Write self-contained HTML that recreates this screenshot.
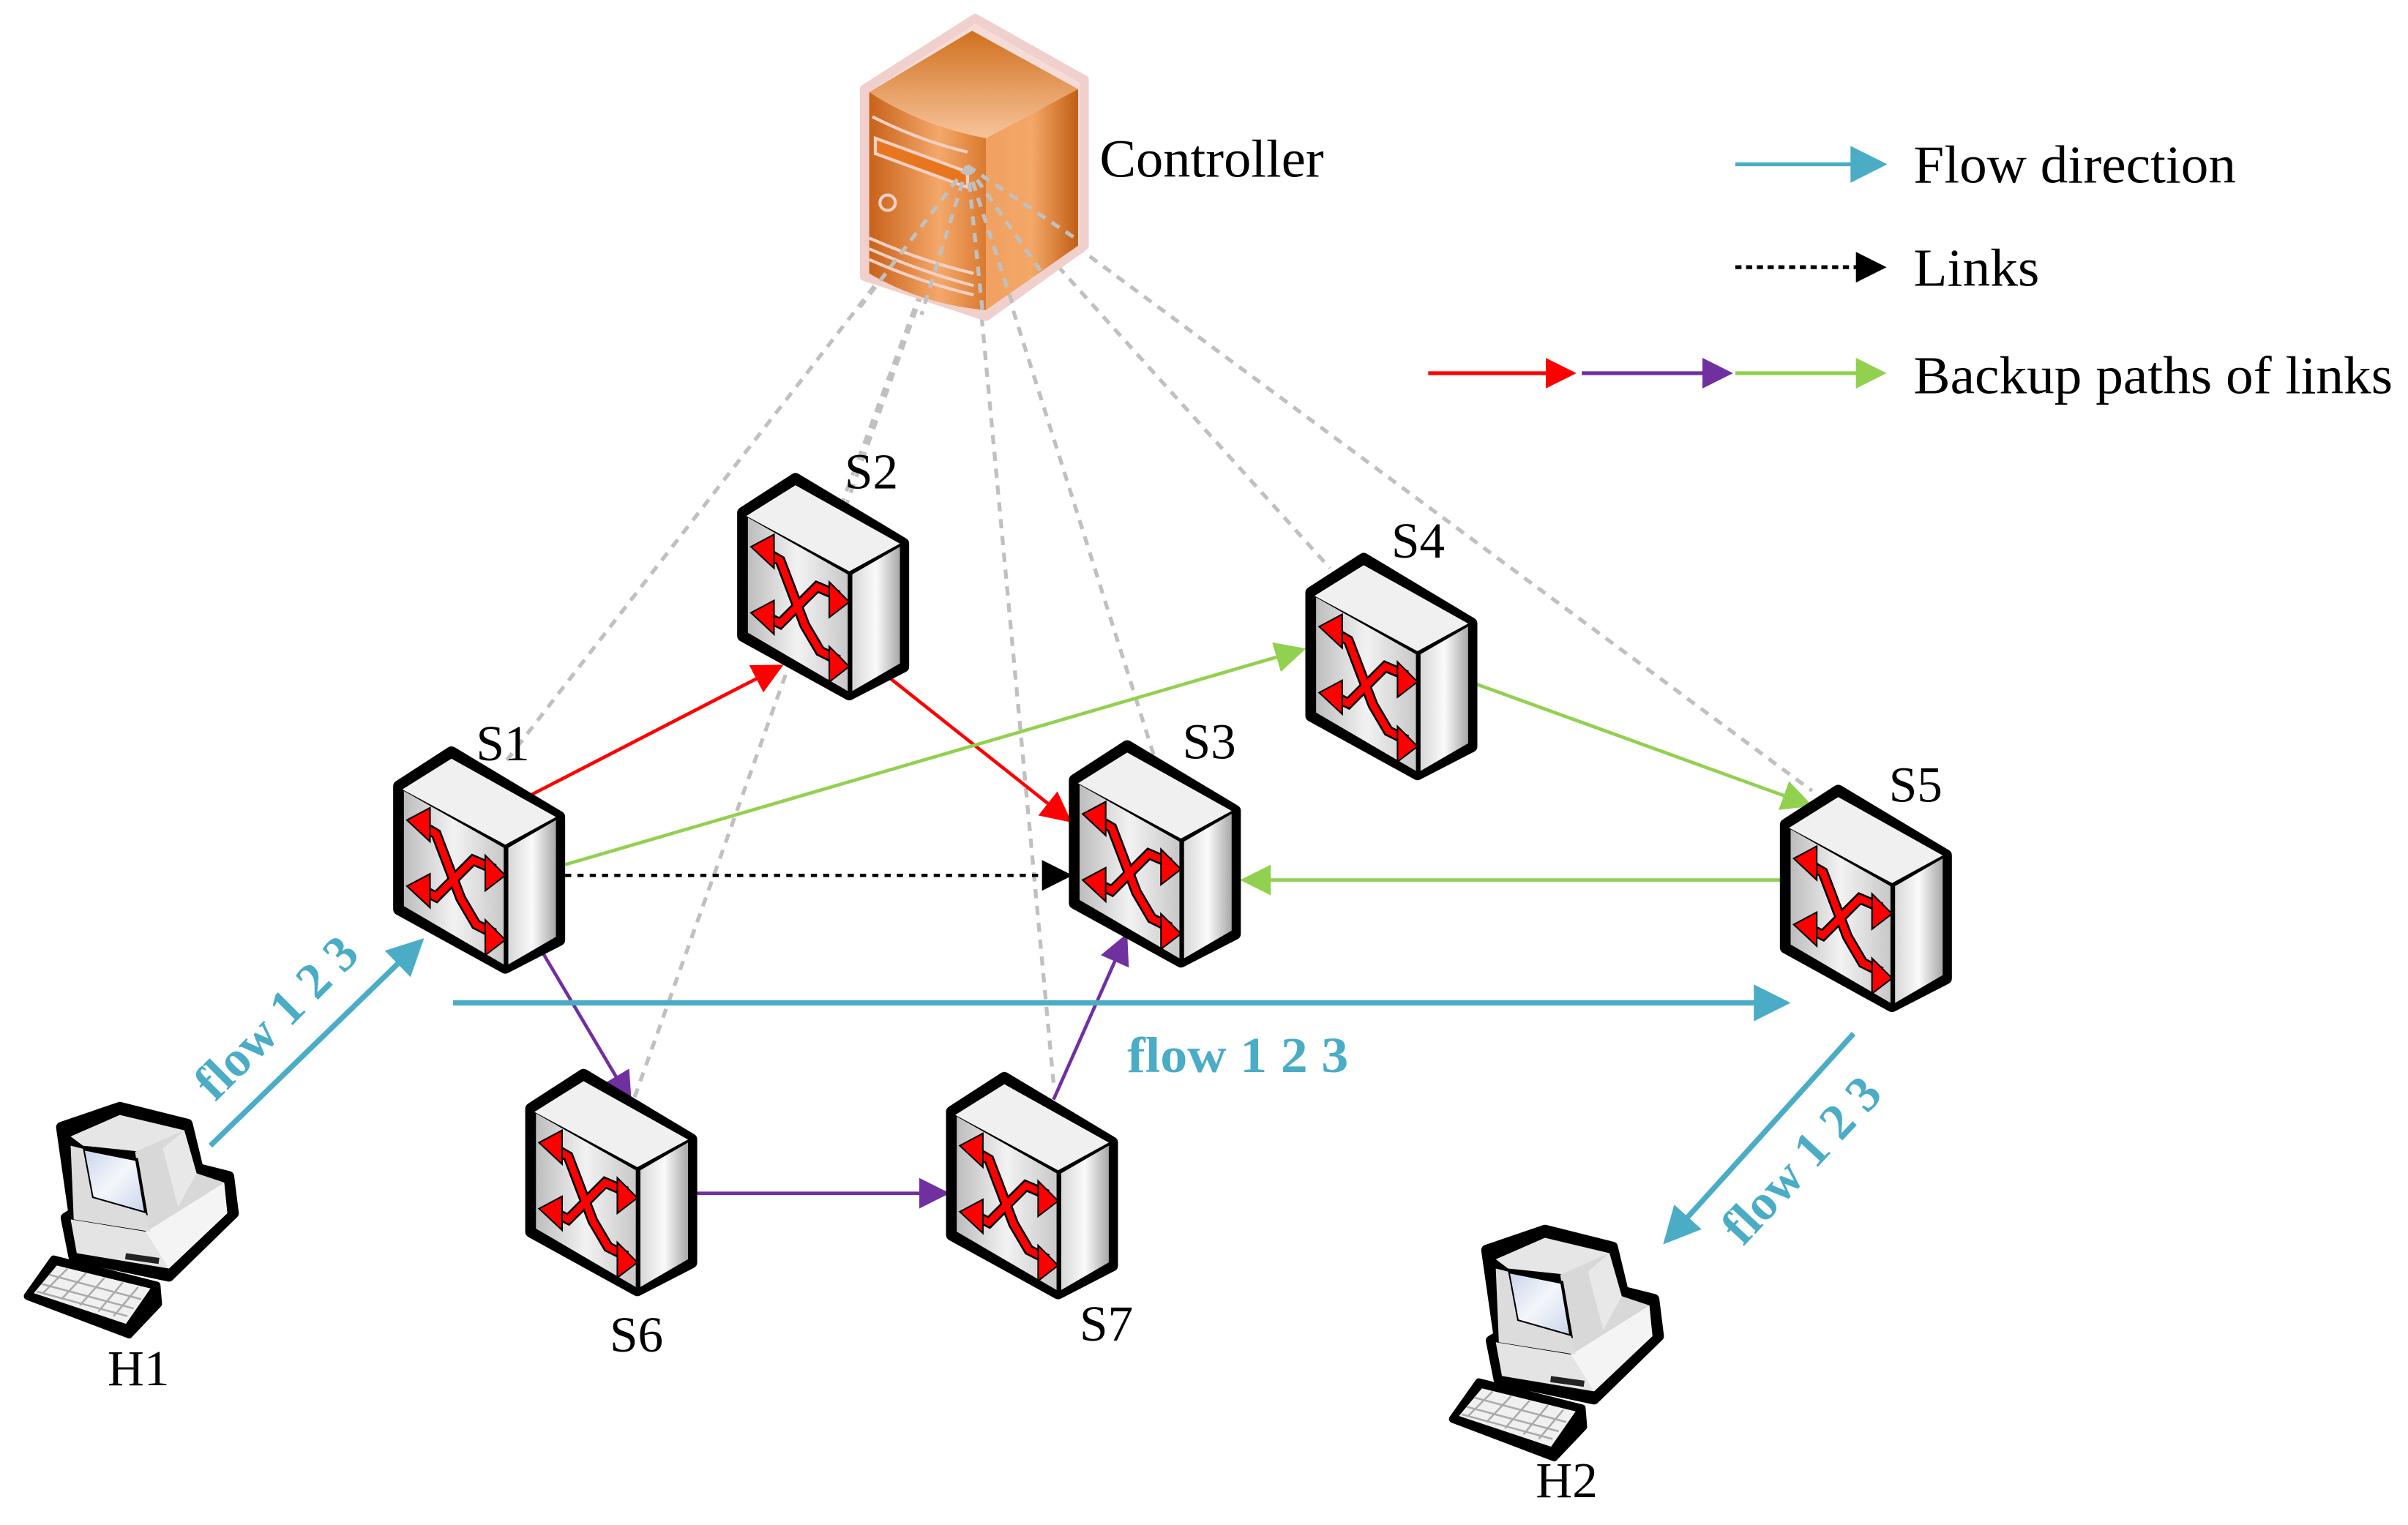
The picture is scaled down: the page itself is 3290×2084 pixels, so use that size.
<!DOCTYPE html>
<html><head><style>html,body{margin:0;padding:0;background:#fff}svg{display:block}</style></head><body>
<svg width="3290" height="2084" viewBox="0 0 1568 993" preserveAspectRatio="none" xmlns="http://www.w3.org/2000/svg" font-family="Liberation Serif, serif">
<defs>
<linearGradient id="gf" x1="0" x2="1"><stop offset="0" stop-color="#bdbdbd"/><stop offset="0.5" stop-color="#f2f2f2"/><stop offset="1" stop-color="#c8c8c8"/></linearGradient>
<linearGradient id="gr" x1="0" x2="1"><stop offset="0" stop-color="#d8d8d8"/><stop offset="0.5" stop-color="#fafafa"/><stop offset="1" stop-color="#a8a8a8"/></linearGradient>
<linearGradient id="of" x1="0" x2="1"><stop offset="0" stop-color="#c8621a"/><stop offset="0.6" stop-color="#f4a86a"/><stop offset="1" stop-color="#d97a30"/></linearGradient>
<linearGradient id="or" x1="0" x2="1"><stop offset="0" stop-color="#f0a060"/><stop offset="0.5" stop-color="#f3a868"/><stop offset="1" stop-color="#c25e14"/></linearGradient>
<linearGradient id="ot" x1="0" y1="0" x2="0" y2="1"><stop offset="0" stop-color="#d0701f"/><stop offset="1" stop-color="#f8c49a"/></linearGradient>
<linearGradient id="scr" x1="0" y1="0" x2="1" y2="1"><stop offset="0" stop-color="#c8d4ea"/><stop offset="0.5" stop-color="#f4f6fb"/><stop offset="1" stop-color="#c8d4ea"/></linearGradient>
<marker id="mg" viewBox="0 0 8 8" markerWidth="20" markerHeight="20" refX="7" refY="4" orient="auto" markerUnits="userSpaceOnUse"><path d="M0,0L8,4L0,8z" fill="#92d050"/></marker>
<marker id="mp" viewBox="0 0 8 8" markerWidth="20" markerHeight="20" refX="7" refY="4" orient="auto" markerUnits="userSpaceOnUse"><path d="M0,0L8,4L0,8z" fill="#7030a0"/></marker>
<marker id="mk" viewBox="0 0 8 8" markerWidth="20" markerHeight="20" refX="7" refY="4" orient="auto" markerUnits="userSpaceOnUse"><path d="M0,0L8,4L0,8z" fill="#000"/></marker>
<marker id="mR" viewBox="0 0 8 8" markerWidth="20" markerHeight="20" refX="7" refY="4" orient="auto" markerUnits="userSpaceOnUse"><path d="M0,0L8,4L0,8z" fill="#ff0000"/></marker>
<marker id="mb" viewBox="0 0 8 8" markerWidth="26" markerHeight="24" refX="7" refY="4" orient="auto" markerUnits="userSpaceOnUse"><path d="M0,0L8,4L0,8z" fill="#4bacc6"/></marker>
<g id="sw">
<path d="M0,22 L34,0 L104,42 L104,122 L69,140 L0,102 Z" fill="#000" stroke="#000" stroke-width="8" stroke-linejoin="round"/>
<path d="M2,24 L34,4 L102,42 L69,60 Z" fill="#f0f0f0"/>
<path d="M3,25 L68,62 L68,138 L3,100 Z" fill="url(#gf)"/>
<path d="M71,62 L102,44 L102,120 L71,138 Z" fill="url(#gr)"/>
<g stroke="#000" stroke-width="7" fill="none"><path d="M12,46 L24,53 L40,95 L50,112 L62,118"/><path d="M12,88 L24,94 L48,70 L62,76"/></g>
<g stroke="#ff0000" stroke-width="4.5" fill="none"><path d="M12,46 L24,53 L40,95 L50,112 L62,118"/><path d="M12,88 L24,94 L48,70 L62,76"/></g>
<g fill="#ff0000" stroke="#000" stroke-width="1"><path d="M5,44 L20,36 L20,58 Z"/><path d="M5,87 L20,79 L20,101 Z"/><path d="M69,80 L56,67 L56,90 Z"/><path d="M69,122 L56,109 L56,132 Z"/></g>
</g>
<g id="pc">
<path d="M20,16 L58,3 L102,14 L109,43 L129,48 L132,72 L90,113 L28,100 L23,75 L28,72 Z" fill="#000" stroke="#000" stroke-width="7" stroke-linejoin="round"/>
<path d="M26,22 L58,8 L100,18 L92,34 L34,28 Z" fill="#e6e6e6"/>
<path d="M68,32 L100,18 L108,46 L126,52 L75,84 Z" fill="#d8d8d8"/>
<path d="M34,30 L69,37 L75,72 L40,62 Z" fill="url(#scr)" stroke="#000" stroke-width="2"/>
<path d="M86,30 L100,18 L108,46 L96,68 Z" fill="#e8e8e8"/>
<path d="M26,76 L75,84 L126,52 L128,72 L90,108 L30,98 Z" fill="#e4e4e4"/>
<path d="M75,84 L126,52 L128,72 L90,108 Z" fill="#f4f4f4"/>
<path d="M26,28 L34,30 L40,62 L75,72 L78,84 L28,76 Z" fill="#dcdcdc"/>
<rect x="62" y="98" width="22" height="4" fill="#222" transform="rotate(8 62 98)"/>
<path d="M15,102 L82,119 L83,131 L64,151 L-2,126 Z" fill="#000" stroke="#000" stroke-width="5" stroke-linejoin="round"/>
<path d="M17,106 L78,121 L62,144 L2,124 Z" fill="#f0f0f0"/>
<g stroke="#aaa" stroke-width="1.2"><path d="M12,112 L72,128 M7,118 L67,134 M4,123 L63,139 M24,108 L8,124 M36,111 L20,128 M48,114 L32,132 M60,117 L44,136 M70,120 L54,139"/></g>
</g>
</defs>
<rect width="1568" height="993" fill="#fff"/>

<g stroke="#c0c0c0" stroke-width="2.5" stroke-dasharray="6,5" fill="none">
<path d="M630,108 L330,495"/><path d="M630,108 L413,715"/><path d="M630,108 L686,705"/><path d="M630,108 L752,494"/><path d="M630,108 L866,370"/><path d="M630,108 L1180,515"/><path d="M630,108 L540,350"/>
</g>

<g>
<path d="M563,58 L635,12 L706,52 L706,160 L642,206 L563,180 Z" fill="#f6dcd8" stroke="#f0d0cc" stroke-width="6" stroke-linejoin="round"/>
<path d="M566,60 L633,20 L702,58 L642,90 Q600,82 566,60 Z" fill="url(#ot)"/>
<path d="M566,60 Q600,82 642,90 L642,202 Q600,198 566,178 Z" fill="url(#of)"/>
<path d="M642,90 L702,58 L702,160 L642,202 Z" fill="url(#or)"/>
<g stroke="#f6d0c4" stroke-width="2" fill="none"><path d="M568,76 Q600,92 630,99"/><path d="M570,90 L630,112 L630,122 L570,100 Z" fill="#e8761f"/><circle cx="578" cy="132" r="5"/><path d="M566,155 Q600,170 634,178 M566,162 Q600,177 634,186 M566,169 Q600,184 634,192"/></g>
<g stroke="#c0c0c0" stroke-width="2.5" stroke-dasharray="6,5"><path d="M630,108 L560,200"/><path d="M630,108 L600,205"/><path d="M630,108 L640,205"/><path d="M630,108 L660,200"/><path d="M630,108 L700,155"/><path d="M630,108 L680,180"/></g>
</g>
<text x="716" y="115" font-size="35" textLength="146" lengthAdjust="spacingAndGlyphs">Controller</text>

<g fill="none" stroke-width="2.2">
<path d="M345,518 L508,434" stroke="#ff0000" marker-end="url(#mR)"/>
<path d="M575,438 L696,534" stroke="#ff0000" marker-end="url(#mR)"/>
<path d="M368,563 L848,423" stroke="#92d050" marker-end="url(#mg)"/>
<path d="M960,445 L1178,524" stroke="#92d050" marker-end="url(#mg)"/>
<path d="M1160,573 L810,573" stroke="#92d050" marker-end="url(#mg)"/>
<path d="M368,570 L696,570" stroke="#000" stroke-dasharray="4,4" marker-end="url(#mk)"/>
<path d="M352,618 L410,716" stroke="#7030a0" marker-end="url(#mp)"/>
<path d="M452,777 L616,777" stroke="#7030a0" marker-end="url(#mp)"/>
<path d="M686,716 L733,610" stroke="#7030a0" marker-end="url(#mp)"/>
</g>
<g fill="none" stroke="#4bacc6" stroke-width="3.5">
<path d="M137,746 L274,613" marker-end="url(#mb)"/>
<path d="M295,653 L1163,653" marker-end="url(#mb)"/>
<path d="M1207,673 L1085,808" marker-end="url(#mb)"/>
</g>

<use href="#sw" x="260" y="490"/>
<use href="#sw" x="484" y="312"/>
<use href="#sw" x="700" y="486"/>
<use href="#sw" x="854" y="364"/>
<use href="#sw" x="1163" y="515"/>
<use href="#sw" x="346" y="700"/>
<use href="#sw" x="620" y="702"/>

<use href="#pc" x="20" y="718"/>
<use href="#pc" x="948" y="798"/>

<g font-size="33">
<text x="310" y="495">S1</text><text x="550" y="318">S2</text><text x="770" y="494">S3</text><text x="906" y="363">S4</text><text x="1230" y="522">S5</text><text x="397" y="880">S6</text><text x="703" y="873">S7</text><text x="70" y="902">H1</text><text x="1000" y="975">H2</text>
</g>

<g fill="#4bacc6" font-weight="bold" font-size="33">
<text transform="translate(140,718) rotate(-45)">flow 1 2 3</text>
<text x="734" y="698" textLength="144" lengthAdjust="spacingAndGlyphs">flow 1 2 3</text>
<text transform="translate(1135,812) rotate(-47)">flow 1 2 3</text>
</g>

<g stroke-width="2.5" fill="none">
<path d="M1130,107 L1226,107" stroke="#4bacc6" marker-end="url(#mb)"/>
<path d="M1130,174 L1226,174" stroke="#000" stroke-dasharray="4,3" marker-end="url(#mk)"/>
<path d="M930,243 L1024,243" stroke="#ff0000" marker-end="url(#mR)"/>
<path d="M1030,243 L1126,243" stroke="#7030a0" marker-end="url(#mp)"/>
<path d="M1130,243 L1226,243" stroke="#92d050" marker-end="url(#mg)"/>
</g>
<g font-size="35">
<text x="1246" y="119" textLength="210" lengthAdjust="spacingAndGlyphs">Flow direction</text>
<text x="1246" y="186" textLength="82" lengthAdjust="spacingAndGlyphs">Links</text>
<text x="1246" y="256" textLength="312" lengthAdjust="spacingAndGlyphs">Backup paths of links</text>
</g>
</svg>
</body></html>
